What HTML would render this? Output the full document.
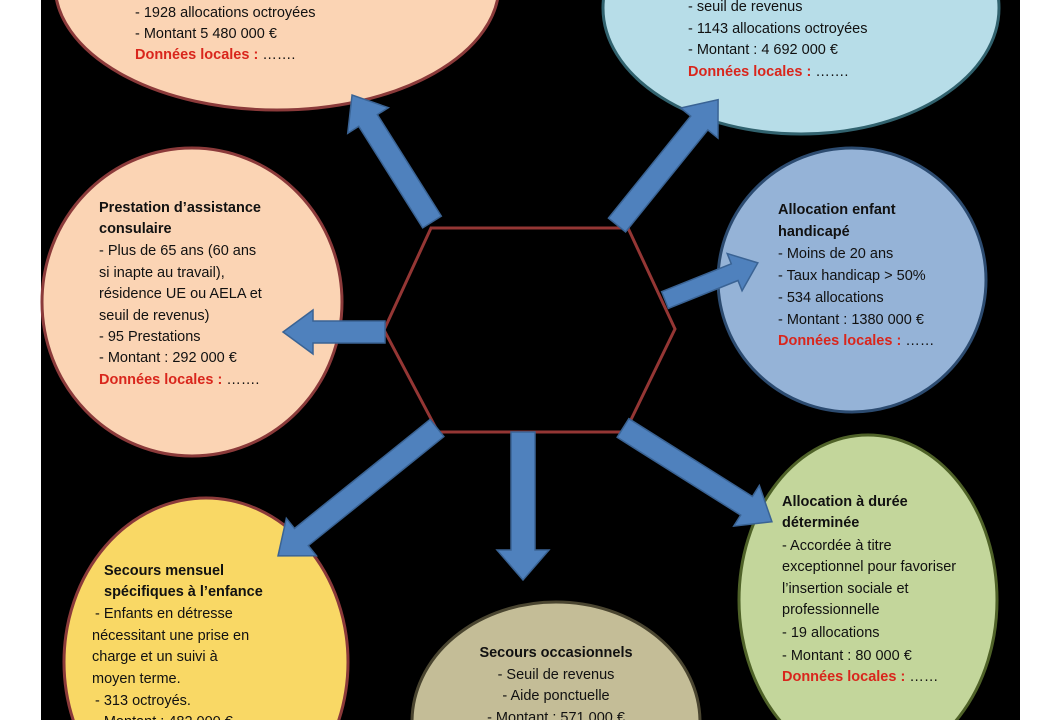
<!DOCTYPE html>
<html><head><meta charset="utf-8"><style>
html,body{margin:0;padding:0;background:#fff;width:1060px;height:720px;overflow:hidden;}
svg{display:block;}
text{font-family:"Liberation Sans",sans-serif;font-size:14.5px;fill:#111;}
.b{font-weight:bold;}
.r{fill:#d9261c;font-weight:bold;}
</style></head><body>
<svg width="1060" height="720" viewBox="0 0 1060 720" xmlns="http://www.w3.org/2000/svg">
<rect x="0" y="0" width="1060" height="720" fill="#fff"/>
<rect x="41" y="0" width="979" height="720" fill="#000"/>
<ellipse cx="277" cy="-15" rx="222" ry="125" fill="#fbd4b4" stroke="#8b3a3a" stroke-width="3"/>
<ellipse cx="801" cy="8" rx="198" ry="126" fill="#b7dde8" stroke="#31626e" stroke-width="3"/>
<ellipse cx="192" cy="302" rx="150" ry="154" fill="#fbd4b4" stroke="#8b3a3a" stroke-width="3"/>
<ellipse cx="852" cy="280" rx="134" ry="132" fill="#95b3d7" stroke="#2c4b70" stroke-width="3"/>
<ellipse cx="206" cy="662" rx="142" ry="164" fill="#f9d865" stroke="#8b3a3a" stroke-width="3"/>
<ellipse cx="556" cy="722" rx="144" ry="120" fill="#c4bd97" stroke="#4a4530" stroke-width="3"/>
<ellipse cx="868" cy="600" rx="129" ry="165" fill="#c3d69b" stroke="#4f6228" stroke-width="3"/>
<polygon points="431,228 628,228 675,329 625,432 438,432 384,330" fill="#000" stroke="#943634" stroke-width="3"/>
<g fill="#4f81bd" stroke="#3a6394" stroke-width="1.5">
<polygon transform="translate(432,222) rotate(-122.2)" points="0,-11 120,-11 120,-24 150,0 120,24 120,11 0,11"/>
<polygon transform="translate(617,225) rotate(-51.1)" points="0,-11 131,-11 131,-24 161,0 131,24 131,11 0,11"/>
<polygon transform="translate(385,332) rotate(180)" points="0,-11 72,-11 72,-22 102,0 72,22 72,11 0,11"/>
<polygon transform="translate(665,300) rotate(-21.8)" points="0,-9 75,-9 75,-20 100,0 75,20 75,9 0,9"/>
<polygon transform="translate(437,428) rotate(141.2)" points="0,-11 174,-11 174,-24 204,0 174,24 174,11 0,11"/>
<polygon transform="translate(523,432) rotate(90)" points="0,-12 118,-12 118,-26 148,0 118,26 118,12 0,12"/>
<polygon transform="translate(623,428) rotate(32.2)" points="0,-11 146,-11 146,-24 176,0 146,24 146,11 0,11"/>
</g>
<text x="135" y="17">- 1928 allocations octroyées</text>
<text x="135" y="38">- Montant 5 480 000 €</text>
<text x="135" y="59"><tspan class="r">Données locales :</tspan>  …….</text>

<text x="688" y="11">- seuil de revenus</text>
<text x="688" y="33">- 1143 allocations octroyées</text>
<text x="688" y="54">- Montant : 4 692 000 €</text>
<text x="688" y="76"><tspan class="r">Données locales :</tspan>  …….</text>

<text x="99" y="212" class="b">Prestation d’assistance</text>
<text x="99" y="233" class="b">consulaire</text>
<text x="99" y="255">- Plus de 65 ans  (60  ans</text>
<text x="99" y="277">si inapte au travail),</text>
<text x="99" y="298">résidence UE ou AELA et</text>
<text x="99" y="320">seuil de revenus)</text>
<text x="99" y="341">- 95 Prestations</text>
<text x="99" y="362">- Montant : 292 000 €</text>
<text x="99" y="384"><tspan class="r">Données locales :</tspan>  …….</text>

<text x="778" y="214" class="b">Allocation enfant</text>
<text x="778" y="236" class="b">handicapé</text>
<text x="778" y="258">- Moins de 20 ans</text>
<text x="778" y="280">- Taux handicap &gt; 50%</text>
<text x="778" y="302">- 534 allocations</text>
<text x="778" y="324">- Montant : 1380 000 €</text>
<text x="778" y="345"><tspan class="r">Données locales :</tspan>  ……</text>

<text x="104" y="575" class="b">Secours mensuel</text>
<text x="104" y="596" class="b">spécifiques à l’enfance</text>
<text x="95" y="618"> - Enfants en détresse</text>
<text x="92" y="640">nécessitant une prise en</text>
<text x="92" y="661">charge et un suivi à</text>
<text x="92" y="683">moyen terme.</text>
<text x="95" y="705"> - 313 octroyés.</text>
<text x="95" y="726"> - Montant : 482 000 €</text>

<text x="556" y="657" class="b" text-anchor="middle">Secours occasionnels</text>
<text x="556" y="679" text-anchor="middle">- Seuil de revenus</text>
<text x="556" y="700" text-anchor="middle">- Aide ponctuelle</text>
<text x="556" y="722" text-anchor="middle">- Montant : 571 000  €</text>

<text x="782" y="506" class="b">Allocation à durée</text>
<text x="782" y="527" class="b">déterminée</text>
<text x="782" y="550">- Accordée à titre</text>
<text x="782" y="571">exceptionnel pour favoriser</text>
<text x="782" y="593">l’insertion sociale et</text>
<text x="782" y="614">professionnelle</text>
<text x="782" y="637">- 19 allocations</text>
<text x="782" y="660">- Montant : 80 000 €</text>
<text x="782" y="681"><tspan class="r">Données locales :</tspan> ……</text>
</svg>
</body></html>
